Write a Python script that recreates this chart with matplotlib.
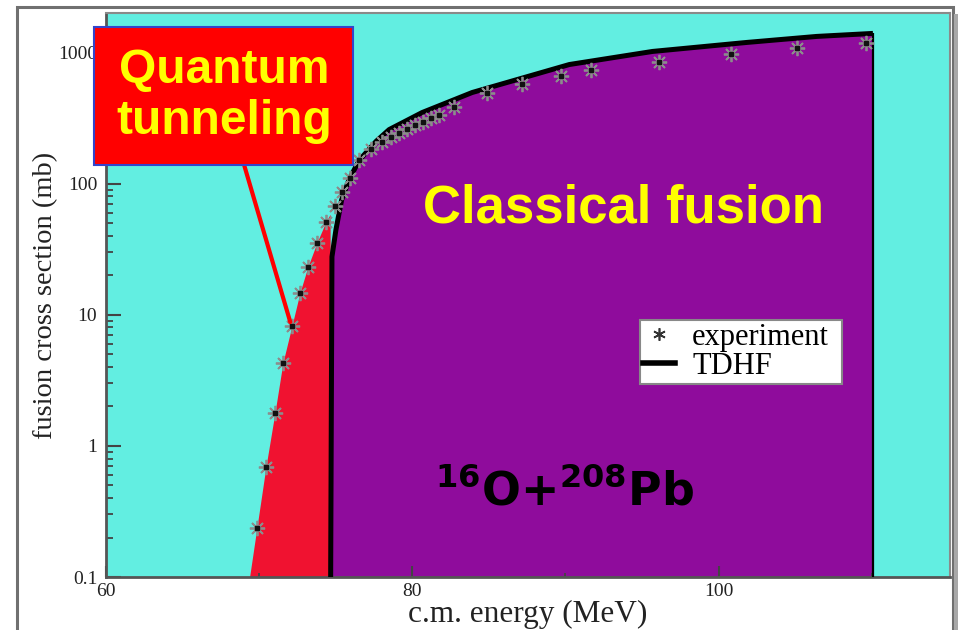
import numpy as np
import matplotlib.pyplot as plt
from matplotlib.lines import Line2D
from matplotlib.patches import Rectangle
from matplotlib.ticker import MultipleLocator, LogLocator, FixedLocator, FixedFormatter

plt.rcParams['mathtext.fontset'] = 'custom'
plt.rcParams['mathtext.bf'] = 'DejaVu Sans:bold'
plt.rcParams['mathtext.default'] = 'bf'

# measured fusion cross sections, 16O+208Pb
exp_e = [69.87, 70.46, 71.05, 71.57, 72.16, 72.68, 73.20, 73.79, 74.38, 74.97,
         75.42, 75.95, 76.54, 77.32, 78.04, 78.63, 79.15, 79.67, 80.20, 80.72,
         81.24, 81.76, 82.75, 84.90, 87.19, 89.74, 91.70, 96.14, 100.78, 105.10,
         109.60]
exp_sigma = [0.237, 0.69, 1.79, 4.3, 8.24, 14.7, 23.2, 35.4, 51.3, 68,
             86.9, 111, 152, 182, 209, 228, 245, 263, 282, 297,
             319, 336, 387, 495, 570, 667, 729, 853, 965, 1073,
             1172]

# TDHF cross sections (zero below the barrier)
tdhf_e = [74.65, 74.77, 75.03, 75.40, 75.88, 76.54, 77.65, 78.50, 80.65, 83.92,
          90.26, 95.69, 101.83, 106.40, 110.07]
tdhf_sigma = [0.01, 27.7, 44.5, 75, 107, 150, 210, 258, 348, 495,
              809, 1018, 1192, 1325, 1397]

y_ticks = [0.1, 1, 10, 100, 1000]
y_labels = ['0.1', '1', '10', '100', '1000']

cyan = '#62eee1'
purple = '#8f0c9c'
red = '#f01230'
serif = 'Liberation Serif'

fig = plt.figure(figsize=(9.6, 6.3), dpi=100)
ax = fig.add_axes([0.110, 0.0841, 0.8796, 0.8953])
ax.set_facecolor(cyan)

ax.set_yscale('log')
ax.set_xlim(60, 115.1)
ax.set_ylim(0.1, 2000)

# sub-barrier (tunneling) region under the experimental curve
barrier = tdhf_e[0]
le = np.log10(exp_sigma)
slope = (le[1] - le[0]) / (exp_e[1] - exp_e[0])
grid = np.linspace(exp_e[0] - 1.0, barrier, 300)
lg = np.where(grid < exp_e[0], le[0] + slope * (grid - exp_e[0]),
              np.interp(grid, exp_e, le))
ax.fill_between(grid, 1e-3, 10 ** lg, color=red, lw=0, zorder=1)

# above-barrier region under TDHF
ax.fill_between(tdhf_e, 1e-3, tdhf_sigma, color=purple, lw=0, zorder=1)
ax.plot(tdhf_e, tdhf_sigma, color='black', lw=3.6, zorder=3, solid_capstyle='butt')
ax.vlines(tdhf_e[-1], 1e-3, tdhf_sigma[-1], color='black', lw=1.6, zorder=3)

ax.plot(exp_e, exp_sigma, ls='none', marker=(8, 2, 0), ms=11, mew=1.3,
        color='#8c8c8c', zorder=4)
ax.plot(exp_e, exp_sigma, ls='none', marker='s', ms=3, color='#111111', zorder=5)

# axes styling
for side in ['left', 'bottom']:
    ax.spines[side].set_color('#555555')
    ax.spines[side].set_linewidth(2)
for side in ['top', 'right']:
    ax.spines[side].set_color('#8a8a8a')
    ax.spines[side].set_linewidth(1.5)

ax.xaxis.set_major_locator(MultipleLocator(20))
ax.xaxis.set_minor_locator(MultipleLocator(10))
ax.yaxis.set_major_locator(FixedLocator(y_ticks))
ax.yaxis.set_major_formatter(FixedFormatter(y_labels))
ax.yaxis.set_minor_locator(LogLocator(base=10, subs=np.arange(2, 10)))
ax.tick_params(axis='y', which='major', direction='in', length=11, width=1.5,
               color='#444444', labelsize=14, pad=6)
ax.tick_params(axis='y', which='minor', direction='in', length=5, width=1.3,
               color='#444444')
ax.tick_params(axis='x', which='major', direction='in', length=8, width=1.5,
               color='#444444', labelsize=14, pad=4)
ax.tick_params(axis='x', which='minor', direction='in', length=3, width=1.3,
               color='#444444')
for lab in ax.get_xticklabels() + ax.get_yticklabels():
    lab.set_family(serif)
    lab.set_color('#222222')

ax.set_xlabel('c.m. energy (MeV)', family=serif, fontsize=22.5, color='#222222', labelpad=0)
ax.set_ylabel('fusion cross section (mb)', family=serif, fontsize=20.5, color='#222222',
              labelpad=0)

handles = [Line2D([], [], ls='none', marker=(6, 2, 0), ms=9, mew=1.2, color='#333333'),
           Line2D([], [], color='black', lw=4)]
leg = ax.legend(handles, ['experiment', 'TDHF'], loc='upper left',
                bbox_to_anchor=(0.633, 0.346, 0.239, 0.110), mode='expand',
                prop={'family': serif, 'size': 22},
                frameon=True, fancybox=False, framealpha=1, edgecolor='#888888',
                borderpad=0.1, labelspacing=0.0, handlelength=1.05,
                handletextpad=0.55, borderaxespad=0)
leg.get_frame().set_linewidth(1.5)
leg.set_zorder(6)

ax.annotate('Quantum\ntunneling', xy=(72.05, 8.8), xycoords='data',
            xytext=(0.14, 0.853), textcoords='axes fraction',
            ha='center', va='center', fontsize=34.5, fontweight='bold',
            family='Liberation Sans', color='#ffff00', zorder=7, linespacing=1.15,
            bbox=dict(boxstyle='square,pad=0.45', fc='#ff0000', ec='#3344cc', lw=1.5),
            arrowprops=dict(arrowstyle='-', color='#ff0000', lw=3, shrinkA=0, shrinkB=0))

ax.text(0.613, 0.654, 'Classical fusion', transform=ax.transAxes, ha='center',
        va='center', fontsize=38, fontweight='bold', family='Liberation Sans',
        color='#ffff00', zorder=7)

ax.text(0.544, 0.151, r'$^{16}$O+$^{208}$Pb', transform=ax.transAxes, ha='center',
        va='center', fontsize=33, fontweight='bold', family='DejaVu Sans',
        color='black', zorder=7)

# slide frame around the figure
fig.add_artist(Rectangle((17 / 960, -0.05), 936 / 960, 1 - 7 / 630 + 0.05,
                         transform=fig.transFigure, fill=False, ec='#707070', lw=2.2))
fig.add_artist(Rectangle((954 / 960, -0.05), 4 / 960, 1 - 14 / 630 + 0.05,
                         transform=fig.transFigure, fc='#a8a8a8', ec='none'))

fig.savefig('out.png', dpi=100)
